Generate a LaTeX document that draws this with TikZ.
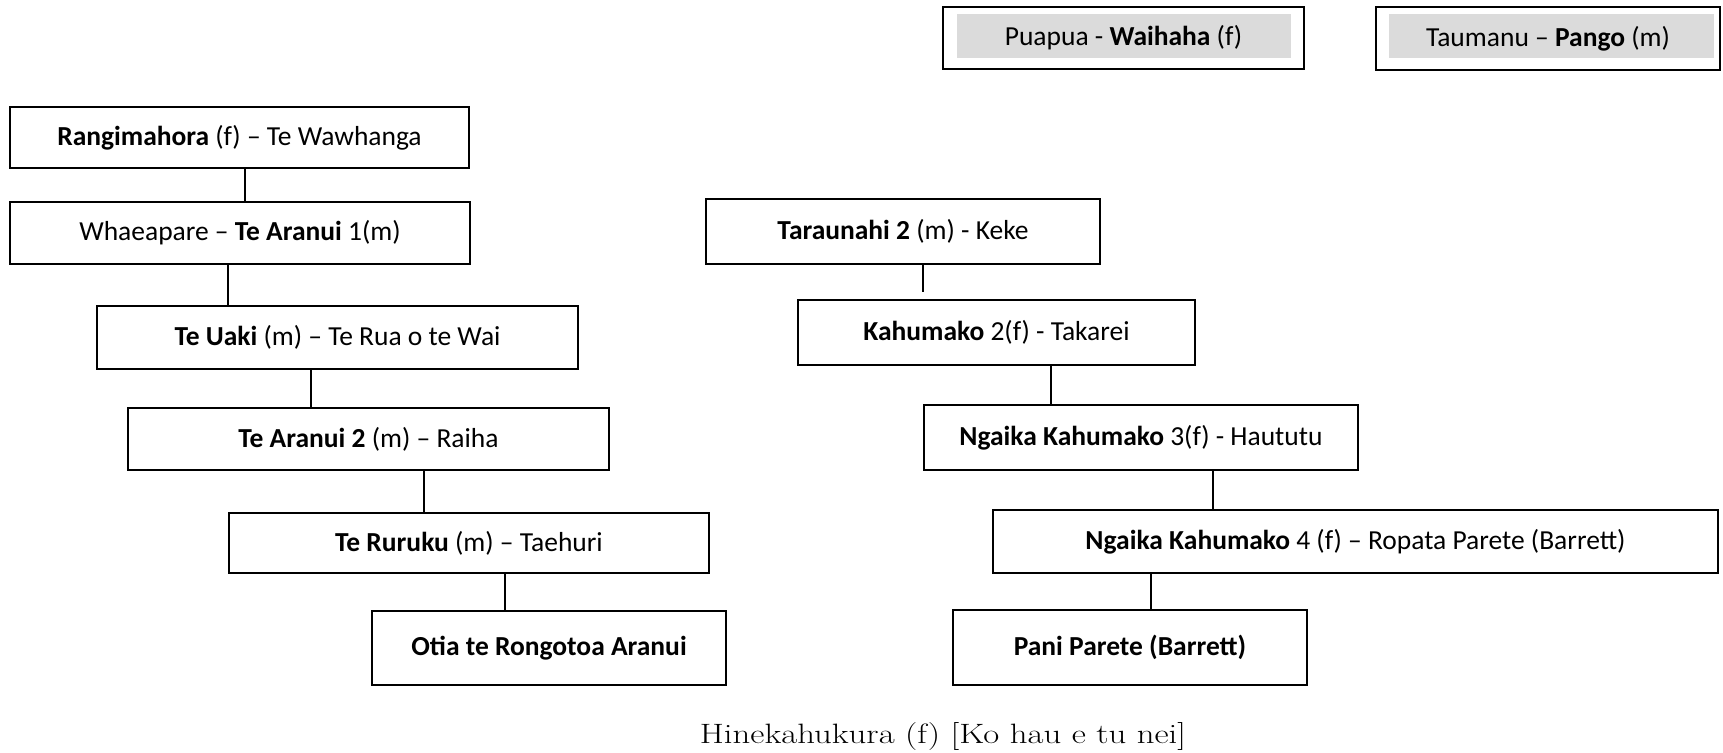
\documentclass[tikz,border=0pt]{standalone}
\usepackage{fontspec}
\newfontfamily\boxfont[Ligatures=TeX]{Carlito}
\begin{document}
\begin{tikzpicture}[x=1pt,y=-1pt,
  person/.style={draw=black,line width=1.6pt,inner sep=0pt,font=\boxfont\fontsize{27.5}{32}\selectfont,anchor=center},
  link/.style={draw=black,line width=1.2pt}]
\useasboundingbox (0,0) rectangle (1723,752);
% top boxes
\fill[gray!28] (957,14) rectangle (1291,58);
\fill[gray!28] (1389,14) rectangle (1714,58);
\node[person,minimum width=361pt,minimum height=62pt] (pua) at (1123.5,38) {Puapua - \textbf{Waihaha} (f)};
\node[person,minimum width=344pt,minimum height=63pt] (tau) at (1548,38.5) {Taumanu – \textbf{Pango} (m)};
% left line
\node[person,minimum width=459pt,minimum height=61pt] (rang) at (239.5,137.5) {\textbf{Rangimahora} (f) – Te Wawhanga};
\node[person,minimum width=460pt,minimum height=62pt] (whae) at (240,233) {Whaeapare – \textbf{Te Aranui} 1(m)};
\node[person,minimum width=481pt,minimum height=63pt] (uaki) at (337.5,337.5) {\textbf{Te Uaki} (m) – Te Rua o te Wai};
\node[person,minimum width=481pt,minimum height=62pt] (ar2) at (368.5,439) {\textbf{Te Aranui 2} (m) – Raiha};
\node[person,minimum width=480pt,minimum height=60pt] (rur) at (469,543) {\textbf{Te Ruruku} (m) – Taehuri};
\node[person,minimum width=354pt,minimum height=74pt] (otia) at (549,648) {\textbf{Otia te Rongotoa Aranui}};
% right line
\node[person,minimum width=394pt,minimum height=65pt] (tara) at (903,231.5) {\textbf{Taraunahi 2} (m) - Keke};
\node[person,minimum width=397pt,minimum height=65pt] (kahu) at (996.5,332.5) {\textbf{Kahumako} 2(f) - Takarei};
\node[person,minimum width=434pt,minimum height=65pt] (ng3) at (1141,437.5) {\textbf{Ngaika Kahumako} 3(f) - Haututu};
\node[person,minimum width=725pt,minimum height=63pt] (ng4) at (1355.5,541.5) {\textbf{Ngaika Kahumako} 4 (f) – Ropata Parete (Barrett)};
\node[person,minimum width=354pt,minimum height=75pt] (pani) at (1130,647.5) {\textbf{Pani Parete (Barrett)}};
% bottom text
\node[font=\fontsize{28}{32}\selectfont,anchor=center] (hine) at (943,737) {\scalebox{1.24}[1]{Hinekahukura (f) [Ko hau e tu nei]}};
% connector x positions
\coordinate (c1) at (245,0);
\coordinate (c2) at (228,0);
\coordinate (c3) at (311,0);
\coordinate (c4) at (424,0);
\coordinate (c5) at (505,0);
\coordinate (c6) at (923,0);
\coordinate (c7) at (1051,0);
\coordinate (c8) at (1213,0);
\coordinate (c9) at (1151,0);
\draw[link] (c1 |- rang.south) -- (c1 |- whae.north);
\draw[link] (c2 |- whae.south) -- (c2 |- uaki.north);
\draw[link] (c3 |- uaki.south) -- (c3 |- ar2.north);
\draw[link] (c4 |- ar2.south) -- (c4 |- rur.north);
\draw[link] (c5 |- rur.south) -- (c5 |- otia.north);
\draw[link] (c6 |- tara.south) -- ([yshift=7pt]c6 |- kahu.north);
\draw[link] (c7 |- kahu.south) -- (c7 |- ng3.north);
\draw[link] (c8 |- ng3.south) -- (c8 |- ng4.north);
\draw[link] (c9 |- ng4.south) -- (c9 |- pani.north);
\end{tikzpicture}
\end{document}
